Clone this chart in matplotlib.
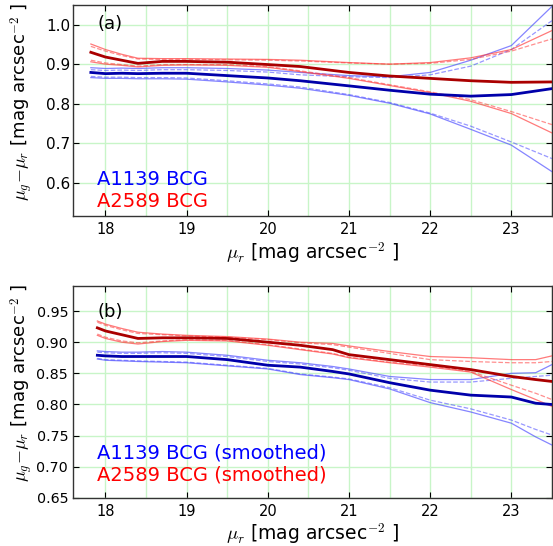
import matplotlib
matplotlib.use("Agg")
import matplotlib.pyplot as plt
from matplotlib.ticker import MultipleLocator, FormatStrFormatter

plt.rcParams['mathtext.fontset'] = 'cm'
plt.rcParams['font.family'] = 'DejaVu Sans'

# ---------------- panel (a) data ----------------
xa = [17.82, 18.0, 18.2, 18.4, 18.7, 19.0, 19.5, 20.0, 20.4, 21.0, 21.5, 22.0, 22.5, 23.0, 23.5]
a2589_a = [0.930, 0.918, 0.910, 0.902, 0.907, 0.907, 0.905, 0.899, 0.894, 0.879, 0.870, 0.864, 0.858, 0.854, 0.855]
a2589_a_up = [0.951, 0.937, 0.925, 0.915, 0.914, 0.914, 0.913, 0.912, 0.910, 0.904, 0.900, 0.904, 0.916, 0.937, 0.985]
a2589_a_upd = [0.945, 0.933, 0.922, 0.913, 0.912, 0.912, 0.911, 0.910, 0.908, 0.903, 0.900, 0.902, 0.912, 0.933, 0.964]
a2589_a_lo = [0.906, 0.900, 0.897, 0.893, 0.897, 0.898, 0.897, 0.892, 0.881, 0.864, 0.846, 0.828, 0.806, 0.775, 0.726]
a2589_a_lod = [0.910, 0.903, 0.899, 0.895, 0.899, 0.899, 0.899, 0.894, 0.883, 0.866, 0.848, 0.830, 0.810, 0.780, 0.747]
a1139_a = [0.879, 0.876, 0.877, 0.876, 0.877, 0.877, 0.871, 0.865, 0.858, 0.845, 0.834, 0.824, 0.819, 0.823, 0.838]
a1139_a_up = [0.891, 0.889, 0.890, 0.889, 0.891, 0.891, 0.889, 0.885, 0.879, 0.871, 0.868, 0.879, 0.910, 0.947, 1.046]
a1139_a_upd = [0.886, 0.884, 0.885, 0.884, 0.886, 0.886, 0.884, 0.880, 0.873, 0.868, 0.866, 0.873, 0.895, 0.937, 1.010]
a1139_a_lo = [0.866, 0.864, 0.864, 0.863, 0.863, 0.862, 0.855, 0.847, 0.839, 0.821, 0.801, 0.774, 0.735, 0.695, 0.628]
a1139_a_lod = [0.869, 0.867, 0.867, 0.866, 0.866, 0.865, 0.858, 0.850, 0.842, 0.823, 0.803, 0.776, 0.743, 0.703, 0.661]

# ---------------- panel (b) data ----------------
xb = [17.9, 18.0, 18.2, 18.4, 18.7, 19.0, 19.5, 20.0, 20.4, 20.8, 21.0, 21.5, 22.0, 22.5, 23.0, 23.3, 23.5]
a2589_b = [0.923, 0.918, 0.912, 0.906, 0.907, 0.907, 0.906, 0.900, 0.895, 0.888, 0.880, 0.872, 0.864, 0.856, 0.845, 0.840, 0.837]
a2589_b_up = [0.934, 0.929, 0.922, 0.916, 0.913, 0.911, 0.909, 0.905, 0.900, 0.898, 0.894, 0.885, 0.877, 0.875, 0.872, 0.872, 0.878]
a2589_b_upd = [0.932, 0.927, 0.920, 0.914, 0.912, 0.910, 0.908, 0.904, 0.899, 0.896, 0.892, 0.882, 0.872, 0.869, 0.867, 0.867, 0.869]
a2589_b_lo = [0.911, 0.906, 0.900, 0.897, 0.901, 0.903, 0.902, 0.895, 0.888, 0.881, 0.875, 0.867, 0.860, 0.852, 0.824, 0.808, 0.797]
a2589_b_lod = [0.913, 0.908, 0.902, 0.899, 0.902, 0.904, 0.903, 0.896, 0.889, 0.882, 0.876, 0.868, 0.862, 0.853, 0.831, 0.818, 0.808]
a1139_b = [0.879, 0.878, 0.877, 0.877, 0.877, 0.877, 0.872, 0.863, 0.860, 0.853, 0.849, 0.835, 0.823, 0.815, 0.812, 0.802, 0.800]
a1139_b_up = [0.886, 0.885, 0.884, 0.884, 0.885, 0.884, 0.879, 0.871, 0.867, 0.861, 0.857, 0.845, 0.840, 0.840, 0.850, 0.851, 0.864]
a1139_b_upd = [0.884, 0.883, 0.882, 0.882, 0.883, 0.882, 0.877, 0.869, 0.865, 0.859, 0.855, 0.842, 0.836, 0.836, 0.842, 0.845, 0.847]
a1139_b_lo = [0.873, 0.871, 0.870, 0.869, 0.868, 0.867, 0.862, 0.857, 0.848, 0.843, 0.840, 0.825, 0.803, 0.788, 0.770, 0.748, 0.735]
a1139_b_lod = [0.874, 0.872, 0.871, 0.870, 0.869, 0.868, 0.863, 0.858, 0.849, 0.844, 0.841, 0.827, 0.807, 0.793, 0.775, 0.760, 0.751]

fig = plt.figure(figsize=(5.53, 5.46), dpi=100)
ax1 = fig.add_axes([0.132, 0.604, 0.866, 0.387])
ax2 = fig.add_axes([0.132, 0.088, 0.866, 0.388])

BLUE_T = '#0000aa'
RED_T = '#aa0000'
grid_c = '#c8f5c8'


def draw(ax, x, blue, bup, bupd, blo, blod, red, rup, rupd, rlo, rlod):
    for y in (bup, blo):
        ax.plot(x, y, color='#4444ff', alpha=0.65, lw=0.9, zorder=3)
    for y in (bupd, blod):
        ax.plot(x, y, color='#4444ff', alpha=0.55, lw=0.9, ls='--', zorder=3)
    for y in (rup, rlo):
        ax.plot(x, y, color='#ff3333', alpha=0.65, lw=0.9, zorder=3)
    for y in (rupd, rlod):
        ax.plot(x, y, color='#ff3333', alpha=0.55, lw=0.9, ls='--', zorder=3)
    ax.plot(x, red, color=RED_T, lw=2.0, zorder=4)
    ax.plot(x, blue, color=BLUE_T, lw=2.0, zorder=4)


draw(ax1, xa, a1139_a, a1139_a_up, a1139_a_upd, a1139_a_lo, a1139_a_lod,
     a2589_a, a2589_a_up, a2589_a_upd, a2589_a_lo, a2589_a_lod)
draw(ax2, xb, a1139_b, a1139_b_up, a1139_b_upd, a1139_b_lo, a1139_b_lod,
     a2589_b, a2589_b_up, a2589_b_upd, a2589_b_lo, a2589_b_lod)

ax1.set_ylim(0.515, 1.05)
ax2.set_ylim(0.65, 0.99)
ax1.yaxis.set_major_locator(MultipleLocator(0.1))
ax2.yaxis.set_major_locator(MultipleLocator(0.05))
ax1.yaxis.set_major_formatter(FormatStrFormatter('%.1f'))
ax2.yaxis.set_major_formatter(FormatStrFormatter('%.2f'))

for ax in (ax1, ax2):
    ax.set_xlim(17.6, 23.5)
    ax.xaxis.set_major_locator(MultipleLocator(1))
    ax.xaxis.set_minor_locator(MultipleLocator(0.5))
    ax.grid(True, which='major', color=grid_c, lw=1.0, zorder=0)
    ax.grid(True, which='minor', axis='x', color=grid_c, lw=1.0, zorder=0)
    ax.set_axisbelow(True)
    ax.tick_params(which='major', direction='in', length=4.5, width=0.8,
                   top=True, right=True)
    ax.tick_params(axis='x', which='major', labelsize=10.5, pad=4)
    ax.tick_params(which='minor', length=0, top=True, right=True)
    ax.set_xlabel(r'$\mu_r$ [mag arcsec$^{-2}$ ]', fontsize=13.5, labelpad=2)
    ax.set_ylabel(r'$\mu_g{-}\mu_r$ [mag arcsec$^{-2}$ ]', fontsize=13)
    for s in ax.spines.values():
        s.set_color('#333333')
        s.set_linewidth(1.0)

ax1.tick_params(axis='y', which='major', labelsize=11, pad=2)
ax2.tick_params(axis='y', which='major', labelsize=10.3, pad=3.5)

ax1.text(0.052, 0.911, '(a)', transform=ax1.transAxes, fontsize=13, va='center')
ax2.text(0.052, 0.877, '(b)', transform=ax2.transAxes, fontsize=13, va='center')

ax1.text(0.05, 0.175, 'A1139 BCG', transform=ax1.transAxes, fontsize=14, color='#0000ff', va='center')
ax1.text(0.05, 0.068, 'A2589 BCG', transform=ax1.transAxes, fontsize=14, color='#ff0000', va='center')
ax2.text(0.05, 0.211, 'A1139 BCG (smoothed)', transform=ax2.transAxes, fontsize=14, color='#0000ff', va='center')
ax2.text(0.05, 0.108, 'A2589 BCG (smoothed)', transform=ax2.transAxes, fontsize=14, color='#ff0000', va='center')

ax1.yaxis.set_label_coords(-0.08, 0.54)
ax2.yaxis.set_label_coords(-0.08, 0.545)

fig.savefig('out.png', dpi=100)
